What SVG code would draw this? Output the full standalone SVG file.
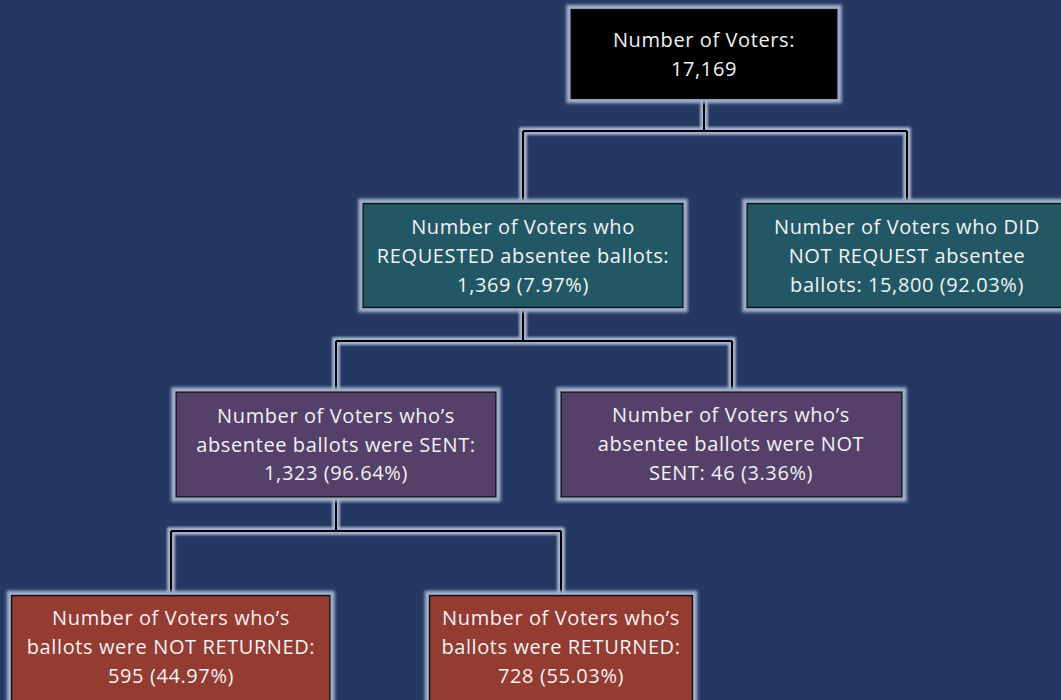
<svg xmlns="http://www.w3.org/2000/svg" width="1061" height="700" viewBox="0 0 1061 700">
  <defs>
    <filter id="glow" x="-10%" y="-10%" width="120%" height="120%" filterUnits="objectBoundingBox">
      <feMorphology in="SourceAlpha" operator="dilate" radius="3.5" result="d"/>
      <feGaussianBlur in="d" stdDeviation="1.4" result="b"/>
      <feFlood flood-color="#9fafcb" result="c"/>
      <feComposite in="c" in2="b" operator="in" result="g"/>
      <feMerge><feMergeNode in="g"/><feMergeNode in="SourceGraphic"/></feMerge>
    </filter>
    <filter id="lglow" x="-20" y="-20" width="1100" height="740" filterUnits="userSpaceOnUse">
      <feMorphology in="SourceAlpha" operator="dilate" radius="3" result="d"/>
      <feGaussianBlur in="d" stdDeviation="1.2" result="b"/>
      <feFlood flood-color="#9fafcb" result="c"/>
      <feComposite in="c" in2="b" operator="in" result="g"/>
      <feMerge><feMergeNode in="g"/><feMergeNode in="SourceGraphic"/></feMerge>
    </filter>
    <style>
      .box { stroke: #111; stroke-width: 1.5; }
      .root { fill: #000000; }
      .teal { fill: #215966; }
      .purple { fill: #54416b; }
      .red { fill: #943a33; }
      .conn { fill: none; stroke: #000; stroke-width: 2; }
      text { font-family: "Open Sans", "Liberation Sans", sans-serif; font-size: 20px; letter-spacing: 0.6px; fill: #f2f2f2; text-anchor: middle; }
    </style>
  </defs>
  <rect x="0" y="0" width="1061" height="700" fill="#243862"/>

  <g id="connectors" filter="url(#lglow)">
    <path class="conn" d="M704,99 V131 M523,131 H907 M523,131 V203 M907,131 V203"/>
    <path class="conn" d="M523,308 V341 M336,341 H732 M336,341 V392 M732,341 V392"/>
    <path class="conn" d="M336,497 V531 M171,531 H561 M171,531 V595 M561,531 V595"/>
  </g>

  <g id="node-total">
    <rect class="box root" x="571" y="9.5" width="266" height="89" filter="url(#glow)"/>
    <text x="704" y="46.5">Number of Voters:</text>
    <text x="704" y="76">17,169</text>
  </g>

  <g id="node-requested">
    <rect class="box teal" x="363" y="203.5" width="320" height="104" filter="url(#glow)"/>
    <text x="523" y="234">Number of Voters who</text>
    <text x="523" y="263">REQUESTED absentee ballots:</text>
    <text x="523" y="292">1,369 (7.97%)</text>
  </g>

  <g id="node-not-requested">
    <rect class="box teal" x="747" y="203.5" width="320" height="104" filter="url(#glow)"/>
    <text x="907" y="234">Number of Voters who DID</text>
    <text x="907" y="263">NOT REQUEST absentee</text>
    <text x="907" y="292">ballots: 15,800 (92.03%)</text>
  </g>

  <g id="node-sent">
    <rect class="box purple" x="176" y="392" width="320" height="105" filter="url(#glow)"/>
    <text x="336" y="423">Number of Voters who’s</text>
    <text x="336" y="452">absentee ballots were SENT:</text>
    <text x="336" y="480">1,323 (96.64%)</text>
  </g>

  <g id="node-not-sent">
    <rect class="box purple" x="561" y="392" width="341" height="105" filter="url(#glow)"/>
    <text x="731" y="422">Number of Voters who’s</text>
    <text x="731" y="451">absentee ballots were NOT</text>
    <text x="731" y="480">SENT: 46 (3.36%)</text>
  </g>

  <g id="node-not-returned">
    <rect class="box red" x="11.5" y="595.5" width="318.5" height="120" filter="url(#glow)"/>
    <text x="171" y="625">Number of Voters who’s</text>
    <text x="171" y="654">ballots were NOT RETURNED:</text>
    <text x="171" y="683">595 (44.97%)</text>
  </g>

  <g id="node-returned">
    <rect class="box red" x="429.5" y="595.5" width="263" height="120" filter="url(#glow)"/>
    <text x="561" y="625">Number of Voters who’s</text>
    <text x="561" y="654">ballots were RETURNED:</text>
    <text x="561" y="683">728 (55.03%)</text>
  </g>
</svg>
